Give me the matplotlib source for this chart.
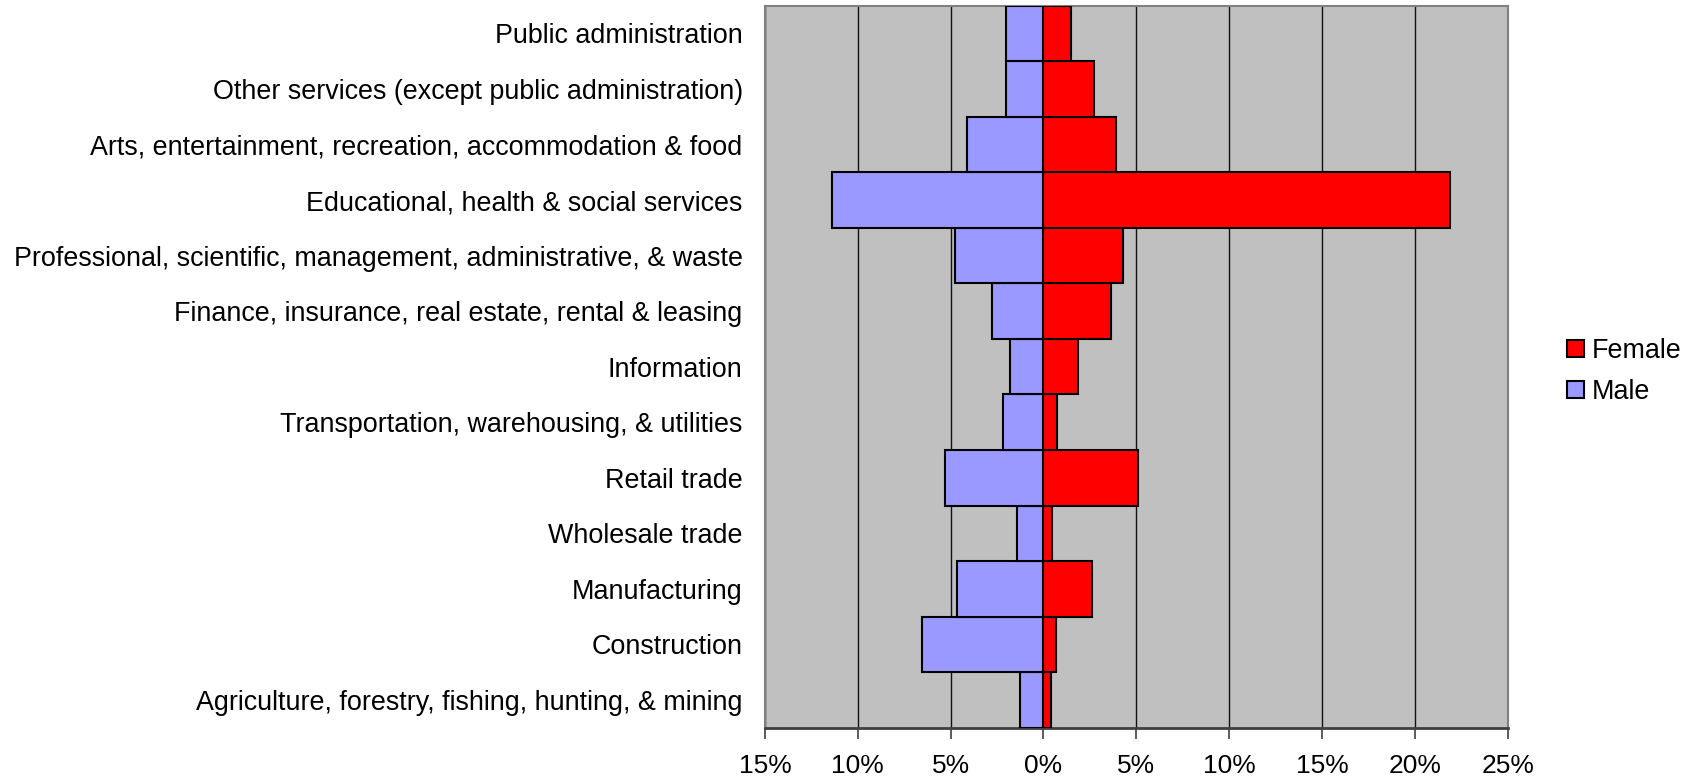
import numpy as np
import matplotlib
matplotlib.use("Agg")
import matplotlib.pyplot as plt
from matplotlib.patches import Patch

plt.rcParams["font.family"] = ["Liberation Sans", "DejaVu Sans"]

# industries, bottom to top
industries = [
    "Agriculture, forestry, fishing, hunting, & mining",
    "Construction",
    "Manufacturing",
    "Wholesale trade",
    "Retail trade",
    "Transportation, warehousing, & utilities",
    "Information",
    "Finance, insurance, real estate, rental & leasing",
    "Professional, scientific, management, administrative, & waste",
    "Educational, health & social services",
    "Arts, entertainment, recreation, accommodation & food",
    "Other services (except public administration)",
    "Public administration",
]
# percent of workforce
female = [0.4, 0.67, 2.6, 0.47, 5.1, 0.73, 1.86, 3.62, 4.26, 21.9, 3.9, 2.7, 1.48]
male = [1.27, 6.53, 4.67, 1.43, 5.32, 2.2, 1.82, 2.76, 4.77, 11.4, 4.12, 2.0, 2.0]

xticks = [-15, -10, -5, 0, 5, 10, 15, 20, 25]
xticklabels = ["15%", "10%", "5%", "0%", "5%", "10%", "15%", "20%", "25%"]

RED = "#FF0000"
BLUE = "#9999FF"

fig = plt.figure(figsize=(16.98, 7.79), dpi=100)
ax = fig.add_axes([0.4505, 0.0658, 0.8879 - 0.4505, 0.9927 - 0.0658])
ax.set_facecolor("#C0C0C0")

y = np.arange(len(industries))
ax.barh(y, female, height=1.0, color=RED, edgecolor="black", linewidth=1.5, zorder=3)
ax.barh(y, -np.array(male), height=1.0, color=BLUE, edgecolor="black", linewidth=1.5, zorder=3)

ax.set_xlim(-15, 25)
ax.set_ylim(-0.5, len(industries) - 0.5)
ax.set_xticks(xticks)
ax.set_xticklabels(xticklabels, fontsize=19)
ax.set_yticks(y)
ax.set_yticklabels(industries, fontsize=19.4)
ax.tick_params(axis="y", length=0, pad=16)
ax.tick_params(axis="x", direction="out", length=8, width=1.2, color="#404040", pad=11)

ax.grid(axis="x", color="#111111", linewidth=1.0, zorder=1)
ax.set_axisbelow(True)

for side in ["left", "top", "right"]:
    ax.spines[side].set_color("#808080")
    ax.spines[side].set_linewidth(1.5)
ax.spines["bottom"].set_color("#404040")
ax.spines["bottom"].set_linewidth(2)

handles = [Patch(facecolor=RED, edgecolor="black", linewidth=1.5, label="Female"),
           Patch(facecolor=BLUE, edgecolor="black", linewidth=1.5, label="Male")]
fig.legend(handles=handles, loc="center left", bbox_to_anchor=(0.9165, 0.523),
           frameon=False, fontsize=19.4, handlelength=0.62, handleheight=0.62,
           handletextpad=0.3, labelspacing=0.55, borderaxespad=0)

fig.savefig("out.png", dpi=100)
